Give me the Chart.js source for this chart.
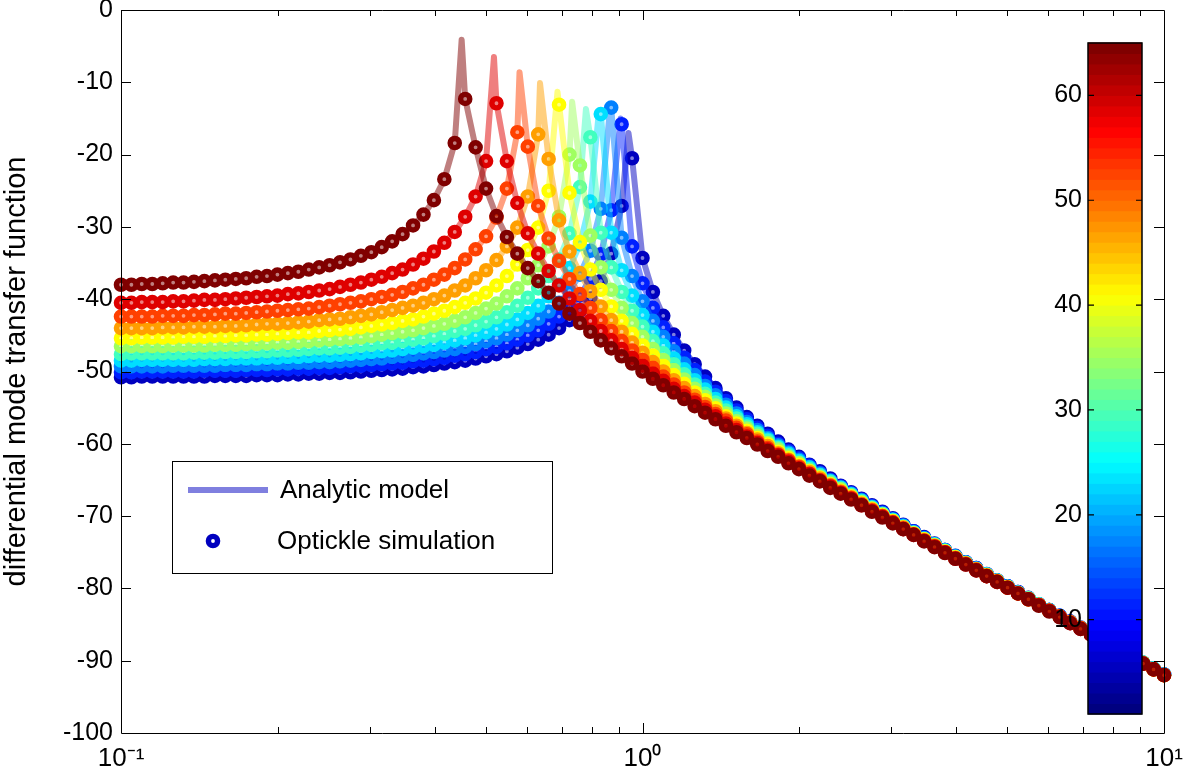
<!DOCTYPE html>
<html>
<head>
<meta charset="utf-8">
<script src="https://cdn.jsdelivr.net/npm/chart.js@4.4.0/dist/chart.umd.min.js"></script>
<style>
  html, body { margin: 0; padding: 0; background: #fff; }
  #wrap { width: 1185px; height: 780px; position: relative; }
</style>
</head>
<body>
<div id="wrap"><canvas id="tf-chart"></canvas></div>
<script>
// === Data ===
const freqs = [
    0.1, 0.1047, 0.1096, 0.1148, 0.1202, 0.1259, 0.1318, 0.1380, 0.1445, 0.1514,
    0.1585, 0.1660, 0.1738, 0.1820, 0.1905, 0.1995, 0.2089, 0.2188, 0.2291, 0.2399,
    0.2512, 0.2630, 0.2754, 0.2884, 0.3020, 0.3162, 0.3311, 0.3467, 0.3631, 0.3802,
    0.3981, 0.4169, 0.4365, 0.4571, 0.4786, 0.5012, 0.5248, 0.5495, 0.5754, 0.6026,
    0.6310, 0.6607, 0.6918, 0.7244, 0.7586, 0.7943, 0.8318, 0.8710, 0.9120, 0.9550,
    1.000, 1.047, 1.096, 1.148, 1.202, 1.259, 1.318, 1.380, 1.445, 1.514,
    1.585, 1.660, 1.738, 1.820, 1.905, 1.995, 2.089, 2.188, 2.291, 2.399,
    2.512, 2.630, 2.754, 2.884, 3.020, 3.162, 3.311, 3.467, 3.631, 3.802,
    3.981, 4.169, 4.365, 4.571, 4.786, 5.012, 5.248, 5.495, 5.754, 6.026,
    6.310, 6.607, 6.918, 7.244, 7.586, 7.943, 8.318, 8.710, 9.120, 9.550,
    10.0
];

// colour value of each curve (colorbar units)
const colorValues = [65, 59, 53, 47, 41, 35, 29, 23, 17, 11, 5];

const resp65 = [
    -38.0, -38.0, -37.9, -37.9, -37.8, -37.7, -37.7, -37.6, -37.5, -37.4,
    -37.3, -37.2, -37.1, -36.9, -36.8, -36.6, -36.4, -36.2, -35.9, -35.6,
    -35.3, -34.9, -34.5, -34.0, -33.5, -32.8, -32.0, -31.0, -29.8, -28.3,
    -26.3, -23.4, -18.4, -12.3, -19.0, -24.7, -28.5, -31.4, -33.7, -35.7,
    -37.5, -39.1, -40.6, -42.0, -43.3, -44.5, -45.7, -46.8, -47.9, -48.9,
    -50.0, -51.0, -51.9, -52.9, -53.8, -54.8, -55.7, -56.6, -57.5, -58.4,
    -59.2, -60.1, -61.0, -61.8, -62.7, -63.5, -64.4, -65.2, -66.1, -66.9,
    -67.7, -68.5, -69.4, -70.2, -71.0, -71.8, -72.6, -73.5, -74.3, -75.1,
    -75.9, -76.7, -77.5, -78.3, -79.1, -79.9, -80.7, -81.5, -82.4, -83.2,
    -84.0, -84.8, -85.6, -86.4, -87.2, -88.0, -88.8, -89.6, -90.4, -91.2, -92.0
];
const resp59 = [
    -40.5, -40.5, -40.4, -40.4, -40.4, -40.3, -40.3, -40.2, -40.1, -40.1,
    -40.0, -39.9, -39.8, -39.7, -39.6, -39.5, -39.3, -39.2, -39.0, -38.8,
    -38.6, -38.3, -38.0, -37.7, -37.3, -36.9, -36.4, -35.9, -35.2, -34.4,
    -33.4, -32.2, -30.7, -28.6, -25.8, -20.9, -12.9, -20.9, -26.7, -30.9,
    -33.7, -36.1, -38.1, -39.9, -41.5, -43.0, -44.4, -45.7, -46.9, -48.1,
    -49.2, -50.3, -51.3, -52.4, -53.4, -54.3, -55.3, -56.2, -57.2, -58.1,
    -59.0, -59.9, -60.8, -61.6, -62.5, -63.4, -64.2, -65.1, -65.9, -66.8,
    -67.6, -68.5, -69.3, -70.1, -70.9, -71.8, -72.6, -73.4, -74.2, -75.0,
    -75.9, -76.7, -77.5, -78.3, -79.1, -79.9, -80.7, -81.5, -82.3, -83.1,
    -83.9, -84.8, -85.6, -86.4, -87.2, -88.0, -88.8, -89.6, -90.4, -91.2, -92.0
];
const resp53 = [
    -42.4, -42.4, -42.4, -42.4, -42.3, -42.3, -42.3, -42.2, -42.2, -42.1,
    -42.0, -42.0, -41.9, -41.8, -41.7, -41.6, -41.5, -41.4, -41.3, -41.1,
    -40.9, -40.7, -40.5, -40.3, -40.0, -39.7, -39.4, -39.0, -38.5, -38.0,
    -37.3, -36.6, -35.7, -34.5, -33.1, -31.3, -28.7, -24.7, -16.9, -18.9,
    -27.1, -31.6, -34.7, -37.2, -39.3, -41.2, -42.9, -44.4, -45.8, -47.1,
    -48.4, -49.5, -50.7, -51.8, -52.9, -53.9, -54.9, -55.9, -56.8, -57.8,
    -58.7, -59.7, -60.6, -61.5, -62.3, -63.2, -64.1, -65.0, -65.8, -66.7,
    -67.5, -68.4, -69.2, -70.0, -70.9, -71.7, -72.5, -73.4, -74.2, -75.0,
    -75.8, -76.6, -77.4, -78.3, -79.1, -79.9, -80.7, -81.5, -82.3, -83.1,
    -83.9, -84.7, -85.5, -86.3, -87.2, -88.0, -88.8, -89.6, -90.4, -91.2, -92.0
];
const resp47 = [
    -44.0, -44.0, -44.0, -44.0, -43.9, -43.9, -43.9, -43.8, -43.8, -43.8,
    -43.7, -43.7, -43.6, -43.5, -43.4, -43.4, -43.3, -43.2, -43.1, -42.9,
    -42.8, -42.7, -42.5, -42.3, -42.1, -41.8, -41.5, -41.2, -40.9, -40.5,
    -40.0, -39.5, -38.8, -38.1, -37.1, -36.0, -34.6, -32.7, -30.1, -25.8,
    -17.2, -20.6, -29.1, -33.4, -36.4, -38.9, -41.0, -42.9, -44.5, -46.0,
    -47.4, -48.7, -50.0, -51.2, -52.3, -53.4, -54.5, -55.5, -56.5, -57.5,
    -58.5, -59.4, -60.3, -61.3, -62.2, -63.1, -63.9, -64.8, -65.7, -66.6,
    -67.4, -68.3, -69.1, -70.0, -70.8, -71.6, -72.5, -73.3, -74.1, -75.0,
    -75.8, -76.6, -77.4, -78.2, -79.0, -79.9, -80.7, -81.5, -82.3, -83.1,
    -83.9, -84.7, -85.5, -86.3, -87.1, -87.9, -88.8, -89.6, -90.4, -91.2, -92.0
];
const resp41 = [
    -45.4, -45.4, -45.3, -45.3, -45.3, -45.3, -45.2, -45.2, -45.2, -45.1,
    -45.1, -45.0, -45.0, -44.9, -44.9, -44.8, -44.7, -44.6, -44.6, -44.4,
    -44.3, -44.2, -44.1, -43.9, -43.7, -43.5, -43.3, -43.0, -42.8, -42.4,
    -42.0, -41.6, -41.1, -40.5, -39.9, -39.1, -38.1, -36.8, -35.2, -33.2,
    -30.1, -25.0, -13.1, -25.3, -32.1, -35.9, -38.7, -41.0, -43.0, -44.8,
    -46.4, -47.8, -49.2, -50.5, -51.7, -52.9, -54.0, -55.1, -56.2, -57.2,
    -58.2, -59.2, -60.1, -61.1, -62.0, -62.9, -63.8, -64.7, -65.6, -66.5,
    -67.3, -68.2, -69.0, -69.9, -70.7, -71.6, -72.4, -73.2, -74.1, -74.9,
    -75.7, -76.6, -77.4, -78.2, -79.0, -79.8, -80.7, -81.5, -82.3, -83.1,
    -83.9, -84.7, -85.5, -86.3, -87.1, -87.9, -88.7, -89.6, -90.4, -91.2, -92.0
];
const resp35 = [
    -46.5, -46.5, -46.5, -46.5, -46.5, -46.4, -46.4, -46.4, -46.4, -46.3,
    -46.3, -46.3, -46.2, -46.2, -46.1, -46.0, -46.0, -45.9, -45.8, -45.7,
    -45.6, -45.5, -45.4, -45.3, -45.1, -44.9, -44.7, -44.5, -44.3, -44.0,
    -43.7, -43.4, -43.0, -42.5, -41.9, -41.3, -40.6, -39.6, -38.5, -37.1,
    -35.3, -32.7, -28.6, -20.0, -21.5, -31.2, -35.6, -38.7, -41.2, -43.3,
    -45.2, -46.9, -48.4, -49.8, -51.1, -52.4, -53.5, -54.7, -55.8, -56.9,
    -57.9, -58.9, -59.9, -60.8, -61.8, -62.7, -63.7, -64.6, -65.5, -66.3,
    -67.2, -68.1, -69.0, -69.8, -70.7, -71.5, -72.4, -73.2, -74.0, -74.9,
    -75.7, -76.5, -77.4, -78.2, -79.0, -79.8, -80.6, -81.4, -82.3, -83.1,
    -83.9, -84.7, -85.5, -86.3, -87.1, -87.9, -88.7, -89.5, -90.3, -91.2, -92.0
];
const resp29 = [
    -47.6, -47.5, -47.5, -47.5, -47.5, -47.5, -47.5, -47.4, -47.4, -47.4,
    -47.3, -47.3, -47.3, -47.2, -47.2, -47.1, -47.1, -47.0, -46.9, -46.8,
    -46.8, -46.7, -46.6, -46.4, -46.3, -46.1, -46.0, -45.8, -45.6, -45.4,
    -45.1, -44.8, -44.4, -44.1, -43.6, -43.1, -42.5, -41.8, -40.9, -39.8,
    -38.5, -36.8, -34.5, -30.9, -24.5, -17.6, -30.8, -35.6, -39.0, -41.6,
    -43.8, -45.8, -47.5, -49.0, -50.4, -51.8, -53.1, -54.3, -55.4, -56.5,
    -57.6, -58.6, -59.6, -60.6, -61.6, -62.6, -63.5, -64.4, -65.3, -66.2,
    -67.1, -68.0, -68.9, -69.7, -70.6, -71.5, -72.3, -73.2, -74.0, -74.8,
    -75.7, -76.5, -77.3, -78.1, -79.0, -79.8, -80.6, -81.4, -82.2, -83.1,
    -83.9, -84.7, -85.5, -86.3, -87.1, -87.9, -88.7, -89.5, -90.3, -91.1, -92.0
];
const resp23 = [
    -48.5, -48.5, -48.4, -48.4, -48.4, -48.4, -48.4, -48.4, -48.3, -48.3,
    -48.3, -48.2, -48.2, -48.2, -48.1, -48.1, -48.0, -48.0, -47.9, -47.8,
    -47.8, -47.7, -47.6, -47.5, -47.3, -47.2, -47.1, -46.9, -46.7, -46.5,
    -46.3, -46.0, -45.7, -45.4, -45.0, -44.6, -44.1, -43.5, -42.8, -41.9,
    -40.9, -39.6, -38.0, -35.7, -32.4, -26.5, -14.4, -30.8, -36.0, -39.5,
    -42.2, -44.5, -46.4, -48.2, -49.7, -51.2, -52.5, -53.8, -55.0, -56.2,
    -57.3, -58.4, -59.4, -60.4, -61.4, -62.4, -63.3, -64.3, -65.2, -66.1,
    -67.0, -67.9, -68.8, -69.7, -70.5, -71.4, -72.3, -73.1, -73.9, -74.8,
    -75.6, -76.5, -77.3, -78.1, -78.9, -79.8, -80.6, -81.4, -82.2, -83.0,
    -83.9, -84.7, -85.5, -86.3, -87.1, -87.9, -88.7, -89.5, -90.3, -91.1, -91.9
];
const resp17 = [
    -49.3, -49.3, -49.3, -49.3, -49.3, -49.2, -49.2, -49.2, -49.2, -49.2,
    -49.1, -49.1, -49.1, -49.0, -49.0, -48.9, -48.9, -48.8, -48.8, -48.7,
    -48.7, -48.6, -48.5, -48.4, -48.3, -48.2, -48.0, -47.9, -47.7, -47.5,
    -47.3, -47.1, -46.9, -46.6, -46.2, -45.8, -45.4, -44.9, -44.3, -43.6,
    -42.7, -41.7, -40.5, -38.9, -36.6, -33.3, -27.5, -13.5, -31.5, -36.8,
    -40.3, -43.0, -45.2, -47.2, -48.9, -50.5, -52.0, -53.3, -54.6, -55.8,
    -57.0, -58.1, -59.2, -60.2, -61.2, -62.2, -63.2, -64.1, -65.1, -66.0,
    -66.9, -67.8, -68.7, -69.6, -70.5, -71.3, -72.2, -73.1, -73.9, -74.7,
    -75.6, -76.4, -77.3, -78.1, -78.9, -79.7, -80.6, -81.4, -82.2, -83.0,
    -83.8, -84.7, -85.5, -86.3, -87.1, -87.9, -88.7, -89.5, -90.3, -91.1, -91.9
];
const resp11 = [
    -50.1, -50.1, -50.0, -50.0, -50.0, -50.0, -50.0, -50.0, -49.9, -49.9,
    -49.9, -49.9, -49.8, -49.8, -49.8, -49.7, -49.7, -49.6, -49.6, -49.5,
    -49.5, -49.4, -49.3, -49.2, -49.1, -49.0, -48.9, -48.8, -48.6, -48.5,
    -48.3, -48.1, -47.8, -47.6, -47.3, -46.9, -46.6, -46.1, -45.6, -45.0,
    -44.3, -43.4, -42.4, -41.1, -39.5, -37.2, -33.8, -27.7, -15.8, -32.7,
    -37.8, -41.2, -43.9, -46.1, -48.1, -49.8, -51.4, -52.8, -54.1, -55.4,
    -56.6, -57.8, -58.9, -60.0, -61.0, -62.0, -63.0, -64.0, -65.0, -65.9,
    -66.8, -67.7, -68.6, -69.5, -70.4, -71.3, -72.1, -73.0, -73.9, -74.7,
    -75.6, -76.4, -77.2, -78.1, -78.9, -79.7, -80.5, -81.4, -82.2, -83.0,
    -83.8, -84.6, -85.5, -86.3, -87.1, -87.9, -88.7, -89.5, -90.3, -91.1, -91.9
];
const resp5 = [
    -50.8, -50.8, -50.7, -50.7, -50.7, -50.7, -50.7, -50.7, -50.7, -50.6,
    -50.6, -50.6, -50.6, -50.5, -50.5, -50.5, -50.4, -50.4, -50.3, -50.3,
    -50.2, -50.2, -50.1, -50.0, -49.9, -49.8, -49.7, -49.6, -49.4, -49.3,
    -49.1, -48.9, -48.7, -48.5, -48.2, -47.9, -47.6, -47.2, -46.7, -46.2,
    -45.6, -44.9, -44.0, -42.9, -41.6, -39.9, -37.5, -33.7, -27.1, -20.5,
    -34.3, -39.0, -42.3, -44.9, -47.1, -49.0, -50.7, -52.3, -53.7, -55.0,
    -56.3, -57.5, -58.6, -59.7, -60.8, -61.8, -62.9, -63.8, -64.8, -65.8,
    -66.7, -67.6, -68.5, -69.4, -70.3, -71.2, -72.1, -72.9, -73.8, -74.7,
    -75.5, -76.4, -77.2, -78.0, -78.9, -79.7, -80.5, -81.3, -82.2, -83.0,
    -83.8, -84.6, -85.4, -86.3, -87.1, -87.9, -88.7, -89.5, -90.3, -91.1, -91.9
];
const responses = [resp65, resp59, resp53, resp47, resp41, resp35, resp29, resp23, resp17, resp11, resp5];

// analytic model resonance tops (the simulation grid misses them)
const peakFreqs = [0.450, 0.519, 0.581, 0.636, 0.687, 0.733, 0.779, 0.825, 0.868, 0.908, 0.940];
const peakLevels = [-4.1, -6.5, -8.6, -10.1, -11.3, -12.7, -13.7, -14.0, -13.0, -15.0, -17.0];

const xTickLabels = { 0.1: "10\u207B\u00B9", 1: "10\u2070", 10: "10\u00B9" };
const cbTicks = [10, 20, 30, 40, 50, 60];
const cbMin = 1, cbMax = 65;

// === Colours ===
function jet(t) {
    const c = u => Math.max(0, Math.min(1, u));
    return [c(1.5 - Math.abs(4 * t - 3)), c(1.5 - Math.abs(4 * t - 2)), c(1.5 - Math.abs(4 * t - 1))]
        .map(u => Math.round(u * 255));
}
function jetColor(v, alpha) {
    const [r, g, b] = jet((v - cbMin) / (cbMax - cbMin));
    return `rgba(${r},${g},${b},${alpha})`;
}

// === Datasets ===
const MARKER_R = 4.6, MARKER_W = 5.4, LINE_W = 6;
const datasets = [];
colorValues.forEach((v, k) => {
    const pts = freqs.map((f, j) => ({ x: f, y: responses[k][j] }));
    const linePts = pts.concat([{ x: peakFreqs[k], y: peakLevels[k] }]).sort((a, b) => a.x - b.x);
    datasets.push({
        label: "Optickle " + v,
        data: pts,
        showLine: false,
        pointRadius: MARKER_R,
        pointBorderWidth: MARKER_W,
        pointBorderColor: jetColor(v, 1),
        pointBackgroundColor: "rgba(0,0,0,0)",
        clip: false,
    });
    datasets.push({
        label: "Analytic " + v,
        data: linePts,
        showLine: true,
        pointRadius: 0,
        borderWidth: LINE_W,
        borderColor: jetColor(v, 0.5),
        borderJoinStyle: "round",
        borderCapStyle: "round",
        tension: 0,
        clip: false,
    });
});

// === Decorations: frame, inside ticks, colorbar, legend ===
const decorations = {
    id: "decorations",
    afterDatasetsDraw(chart) {
        const ctx = chart.ctx;
        const { left, right, top, bottom } = chart.chartArea;
        const xs = chart.scales.x, ys = chart.scales.y;
        ctx.save();

        // box + ticks
        ctx.strokeStyle = "#000";
        ctx.lineWidth = 1;
        ctx.beginPath();
        ctx.rect(left + 0.5, top + 0.5, right - left, bottom - top);
        for (let v = -90; v <= -10; v += 10) {
            const y = Math.round(ys.getPixelForValue(v)) + 0.5;
            ctx.moveTo(left, y); ctx.lineTo(left + 10, y);
            ctx.moveTo(right, y); ctx.lineTo(right - 10, y);
        }
        for (let d = 0.1; d < 10; d *= 10) {
            for (let m = 1; m <= 9; m++) {
                const x = Math.round(xs.getPixelForValue(d * m)) + 0.5;
                const len = m === 1 ? 10 : 6;
                ctx.moveTo(x, bottom); ctx.lineTo(x, bottom - len);
                ctx.moveTo(x, top); ctx.lineTo(x, top + len);
            }
        }
        ctx.stroke();

        // colorbar
        const cb = { left: 1088, right: 1142, top: 43, bottom: 714 };
        const n = 64, h = (cb.bottom - cb.top) / n;
        for (let i = 0; i < n; i++) {
            const [r, g, b] = jet(i / (n - 1));
            ctx.fillStyle = `rgb(${r},${g},${b})`;
            ctx.fillRect(cb.left, cb.bottom - (i + 1) * h - 0.5, cb.right - cb.left, h + 1);
        }
        ctx.strokeStyle = "#000";
        ctx.lineWidth = 1.5;
        ctx.strokeRect(cb.left, cb.top, cb.right - cb.left, cb.bottom - cb.top);
        ctx.lineWidth = 1.2;
        ctx.beginPath();
        ctx.fillStyle = "#000";
        ctx.font = "25px 'Liberation Sans', Arial, sans-serif";
        ctx.textAlign = "right";
        ctx.textBaseline = "middle";
        cbTicks.forEach(t => {
            const y = cb.bottom - (t - cbMin) / (cbMax - cbMin) * (cb.bottom - cb.top);
            ctx.moveTo(cb.left, y); ctx.lineTo(cb.left + 6, y);
            ctx.moveTo(cb.right, y); ctx.lineTo(cb.right - 6, y);
            ctx.fillText(String(t), cb.left - 6, y);
        });
        ctx.stroke();

        // legend
        const lg = { x: 172, y: 461, w: 380, h: 112 };
        ctx.fillStyle = "#fff";
        ctx.fillRect(lg.x, lg.y, lg.w, lg.h);
        ctx.lineWidth = 1;
        ctx.strokeRect(lg.x + 0.5, lg.y + 0.5, lg.w, lg.h);
        const legendV = colorValues[colorValues.length - 1];
        ctx.strokeStyle = jetColor(legendV, 0.5);
        ctx.lineWidth = LINE_W;
        ctx.beginPath();
        ctx.moveTo(188, 490); ctx.lineTo(268, 490);
        ctx.stroke();
        ctx.strokeStyle = jetColor(legendV, 1);
        ctx.lineWidth = MARKER_W;
        ctx.beginPath();
        ctx.arc(213, 541, MARKER_R, 0, Math.PI * 2);
        ctx.stroke();
        ctx.fillStyle = "#000";
        ctx.textAlign = "left";
        ctx.font = "26px 'Liberation Sans', Arial, sans-serif";
        ctx.fillText("Analytic model", 280, 491);
        ctx.fillText("Optickle simulation", 277, 542);
        ctx.restore();
    },
};

Chart.defaults.color = "#000";
Chart.defaults.font.family = "'Liberation Sans', Arial, sans-serif";

new Chart(document.getElementById("tf-chart"), {
    type: "line",
    data: { datasets },
    options: {
        responsive: true,
        maintainAspectRatio: false,
        animation: false,
        layout: { padding: { top: 7, right: 21, left: 0, bottom: 0 } },
        scales: {
            x: {
                type: "logarithmic",
                min: 0.1,
                max: 10,
                grid: { display: false, drawTicks: false },
                border: { display: false },
                afterFit: s => { s.height = 47; s.paddingLeft = 0; s.paddingRight = 0; },
                ticks: {
                    autoSkip: false,
                    maxRotation: 0,
                    padding: 10,
                    font: { size: 26 },
                    callback: v => xTickLabels[v] || "",
                },
            },
            y: {
                min: -100,
                max: 0,
                grid: { display: false, drawTicks: false },
                border: { display: false },
                afterFit: s => { s.width = 121; s.paddingTop = 0; s.paddingBottom = 0; },
                ticks: { stepSize: 10, padding: 8, font: { size: 25 } },
                title: {
                    display: true,
                    text: "differential mode transfer function",
                    font: { size: 29 },
                    padding: 0,
                },
            },
        },
        plugins: {
            legend: { display: false },
            tooltip: { enabled: false },
        },
    },
    plugins: [decorations],
});
</script>
</body>
</html>
